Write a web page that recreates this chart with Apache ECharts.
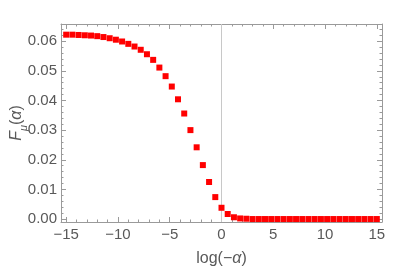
<!DOCTYPE html>
<html>
<head>
<meta charset="utf-8">
<script src="https://cdn.jsdelivr.net/npm/echarts@6/dist/echarts.min.js"></script>
<style>html,body{margin:0;padding:0;background:#fff}#c{width:409px;height:271px}</style>
</head>
<body>
<div id="c"></div>
<script>
const xValues = [-15,-14.4,-13.8,-13.2,-12.6,-12,-11.4,-10.8,-10.2,-9.6,-9,-8.4,-7.8,-7.2,-6.6,-6,-5.4,-4.8,-4.2,-3.6,-3,-2.4,-1.8,-1.2,-0.6,0,0.6,1.2,1.8,2.4,3,3.6,4.2,4.8,5.4,6,6.6,7.2,7.8,8.4,9,9.6,10.2,10.8,11.4,12,12.6,13.2,13.8,14.4,15];
const fValues = [0.0622,0.0622,0.0621,0.0620,0.0619,0.0617,0.0614,0.0610,0.0605,0.0599,0.0591,0.0582,0.0571,0.0556,0.0537,0.0511,0.0482,0.0447,0.0404,0.0356,0.0300,0.0242,0.0182,0.0125,0.0074,0.0038,0.0017,0.0006,0.0002,0.0001,0,0,0,0,0,0,0,0,0,0,0,0,0,0,0,0,0,0,0,0,0];
const xTicks = [-15,-10,-5,0,5,10,15];
const xMinorTicks = [-14,-13,-12,-11,-9,-8,-7,-6,-4,-3,-2,-1,1,2,3,4,6,7,8,9,11,12,13,14];
const yTicks = [0,0.01,0.02,0.03,0.04,0.05,0.06];
const yMinorTicks = [0.002,0.004,0.006,0.008,0.012,0.014,0.016,0.018,0.022,0.024,0.026,0.028,0.032,0.034,0.036,0.038,0.042,0.044,0.046,0.048,0.052,0.054,0.056,0.058,0.062,0.064];

const X_MIN = -15.5, X_MAX = 15.5, Y_MIN = -0.001, Y_MAX = 0.0658;
const frameColor = '#9a9a9a';
const labelColor = '#595959';
const font = 'Liberation Sans';

function xAx(pos, ticks, len, labels, line, extra) {
  return Object.assign({
    type: 'value', position: pos, min: X_MIN, max: X_MAX,
    splitLine: {show: false},
    axisLine: {show: line, onZero: false, lineStyle: {color: frameColor, width: 1}},
    axisTick: {show: true, inside: true, length: len, customValues: ticks, lineStyle: {color: frameColor}},
    axisLabel: {show: labels, customValues: ticks, color: labelColor, fontSize: 15, fontFamily: font, margin: 5,
      formatter: v => String(v).replace('-', '\u2212')}
  }, extra || {});
}
function yAx(pos, ticks, len, labels, line, extra) {
  return Object.assign({
    type: 'value', position: pos, min: Y_MIN, max: Y_MAX,
    splitLine: {show: false},
    axisLine: {show: line, onZero: false, lineStyle: {color: frameColor, width: 1}},
    axisTick: {show: true, inside: true, length: len, customValues: ticks, lineStyle: {color: frameColor}},
    axisLabel: {show: labels, customValues: ticks, color: labelColor, fontSize: 15, fontFamily: font, margin: 4,
      formatter: v => v.toFixed(2)}
  }, extra || {});
}

const chart = echarts.init(document.getElementById('c'), null, {renderer: 'canvas'});
chart.setOption({
  animation: false,
  grid: {left: 61, right: 27, top: 24, bottom: 49, containLabel: false, outerBoundsMode: 'none'},
  xAxis: [
    xAx('bottom', xTicks, 5, true, true, {
      name: 'log(\u2212{i|\u03b1})', nameLocation: 'middle', nameGap: 29, nameMoveOverlap: false,
      nameTextStyle: {color: labelColor, fontSize: 16, fontFamily: font,
        rich: {i: {fontStyle: 'italic', fontSize: 16, fontFamily: font, color: labelColor}}}
    }),
    xAx('bottom', xMinorTicks, 2.5, false, false),
    xAx('top', xTicks, 5, false, true),
    xAx('top', xMinorTicks, 2.5, false, false)
  ],
  yAxis: [
    yAx('left', yTicks, 5, true, true, {
      name: '{i|F}{s|\u03bc}{n|(}{i|\u03b1}{n|)}', nameLocation: 'middle', nameGap: 36, nameRotate: 90, nameMoveOverlap: false,
      nameTextStyle: {color: labelColor, fontSize: 16, fontFamily: font,
        rich: {
          i: {fontStyle: 'italic', fontSize: 16, fontFamily: font, color: labelColor, verticalAlign: 'bottom', lineHeight: 20},
          n: {fontSize: 16, fontFamily: font, color: labelColor, verticalAlign: 'bottom', lineHeight: 20},
          s: {fontStyle: 'italic', fontSize: 11, fontFamily: font, color: labelColor, verticalAlign: 'bottom', lineHeight: 20, padding: [0, 0, -4, 0]}
        }}
    }),
    yAx('left', yMinorTicks, 2.5, false, false),
    yAx('right', yTicks, 5, false, true),
    yAx('right', yMinorTicks, 2.5, false, false)
  ],
  series: [{
    type: 'scatter',
    xAxisIndex: 0, yAxisIndex: 0,
    data: xValues.map((x, i) => [x, fValues[i]]),
    symbol: 'rect', symbolSize: 6,
    itemStyle: {color: '#ff0000', opacity: 1},
    markLine: {
      silent: true, symbol: ['none', 'none'], label: {show: false},
      lineStyle: {color: '#c8c8c8', width: 1, type: 'solid'},
      data: [{xAxis: 0}]
    },
    z: 5
  }]
});
</script>
</body>
</html>
